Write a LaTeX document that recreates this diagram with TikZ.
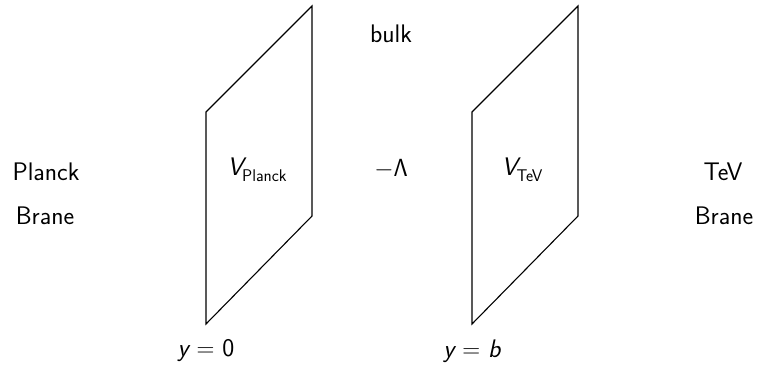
\documentclass[tikz,border=0pt]{standalone}
\usepackage[no-math]{fontspec}
\renewcommand{\familydefault}{\sfdefault}
\newcommand{\subtxt}[1]{\raisebox{-0.55ex}{\upshape\fontsize{17}{20}\selectfont #1}}
\begin{document}
\begin{tikzpicture}[x=1bp,y=-1bp,
  lbl/.style={font=\fontsize{25.5}{30}\selectfont\sffamily\addfontfeature{LetterSpace=5}, inner sep=0pt},
  brane/.style={draw=black, line width=1.1bp, line join=miter}]
\useasboundingbox (0,0) rectangle (770,370);
% branes
\draw[brane] (206,112) -- (312,6) -- (312,216) -- (206,324) -- cycle;
\draw[brane] (472,112) -- (578,6) -- (578,216) -- (472,324) -- cycle;
% labels
\node[lbl] (bulk) at (391,34) {bulk};
\node[lbl] (lam) at (391,169) {$-\mathsf{\Lambda}$};
\node[lbl] (pl1) at (46,172) {Planck};
\node[lbl] (pl2) at (45,216) {Brane};
\node[lbl] (tv1) at (723,172) {TeV};
\node[lbl] (tv2) at (724,216) {Brane};
\node[lbl] (vp) at (257,170) {\itshape V\kern-1pt\subtxt{Planck}};
\node[lbl] (vt) at (522,170) {\itshape V\kern-1pt\subtxt{TeV}};
\node[lbl] (y0) at (206,351) {{\itshape y} $=$ 0};
\node[lbl] (yb) at (472,351) {{\itshape y} $=$ {\itshape b}};
\end{tikzpicture}
\end{document}
